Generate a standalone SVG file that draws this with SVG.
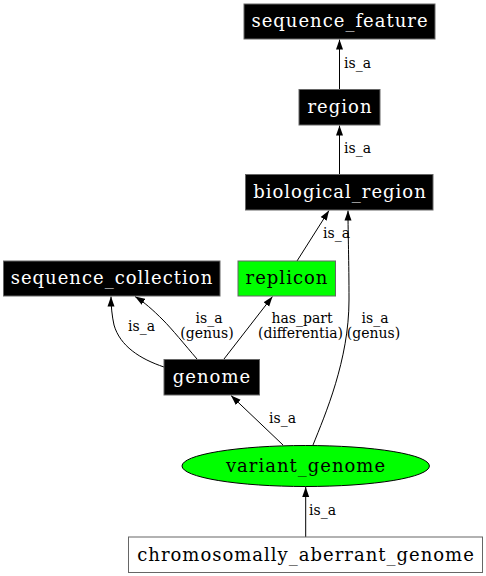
<svg xmlns="http://www.w3.org/2000/svg" width="486" height="576" viewBox="0 0 486 576">
<defs>
<marker id="arr" markerUnits="userSpaceOnUse" markerWidth="10" markerHeight="8" refX="10" refY="3.5" orient="auto" viewBox="0 0 10 7">
<path d="M0,0 L10,3.5 L0,7 z" fill="#000"/>
</marker>
<style>
.box{stroke:#666;stroke-width:1}
.dark{fill:#000}
.lime{fill:#00ff00}
.white{fill:#fff}
.nl{font-family:"DejaVu Serif",serif;font-size:18px;letter-spacing:1px;text-anchor:middle}
.nlw{fill:#fff}
.nlb{fill:#000}
.el{font-family:"DejaVu Serif",serif;font-size:14px;fill:#000}
.e{fill:none;stroke:#000;stroke-width:1;marker-end:url(#arr)}
</style>
</defs>
<rect width="486" height="576" fill="#fff"/>
<g id="connectors">
<path class="e" d="M339.5,89 L339.5,39.5"/>
<path class="e" d="M339.5,174 L339.5,125.5"/>
<path class="e" d="M297,261 L329,210.5"/>
<path class="e" d="M313,445 C325,415 349,360 349,300 C349,260 348,235 348,210.5"/>
<path class="e" d="M164,367 C140,359 120,346 114,325 C112,316 111,306 111,296.5"/>
<path class="e" d="M197,359 C185,345 172,329 163,320 C153,310 144,302 135,296.5"/>
<path class="e" d="M224,359 L272.5,296.5"/>
<path class="e" d="M283,445 L231,395.5"/>
<path class="e" d="M305.7,537 L305.7,487"/>
<text class="el" x="344" y="68">is_a</text>
<text class="el" x="344" y="153">is_a</text>
<text class="el" x="323" y="238">is_a</text>
<text class="el" x="128" y="331">is_a</text>
<text class="el" x="209" y="323" text-anchor="middle">is_a</text>
<text class="el" x="207" y="338" text-anchor="middle">(genus)</text>
<text class="el" x="302" y="323" text-anchor="middle">has_part</text>
<text class="el" x="300.5" y="338" text-anchor="middle">(differentia)</text>
<text class="el" x="375" y="323" text-anchor="middle">is_a</text>
<text class="el" x="373.5" y="338" text-anchor="middle">(genus)</text>
<text class="el" x="269" y="423">is_a</text>
<text class="el" x="309" y="515">is_a</text>
</g>
<g id="sequence_feature">
<rect class="box dark" x="244" y="4" width="191" height="35"/>
<text class="nl nlw" x="340" y="27">sequence_feature</text>
</g>
<g id="region">
<rect class="box dark" x="299" y="89.5" width="81" height="35.5"/>
<text class="nl nlw" x="340" y="112.5">region</text>
</g>
<g id="biological_region">
<rect class="box dark" x="245.5" y="174.5" width="187.5" height="35.5"/>
<text class="nl nlw" x="340" y="197.5">biological_region</text>
</g>
<g id="sequence_collection">
<rect class="box dark" x="3.5" y="261" width="216.5" height="35"/>
<text class="nl nlw" x="112" y="284">sequence_collection</text>
</g>
<g id="replicon">
<rect class="box lime" x="238" y="261" width="97.5" height="35" stroke="#333"/>
<text class="nl nlb" x="287" y="284">replicon</text>
</g>
<g id="genome">
<rect class="box dark" x="164" y="359.5" width="95.5" height="35.5"/>
<text class="nl nlw" x="212" y="382.5">genome</text>
</g>
<g id="variant_genome">
<ellipse cx="305.7" cy="466" rx="123.7" ry="20.5" fill="#00ff00" stroke="#000" stroke-width="1"/>
<text class="nl nlb" x="306" y="471.5">variant_genome</text>
</g>
<g id="chromosomally_aberrant_genome">
<rect class="box white" x="128.5" y="537" width="354" height="35.5" stroke="#333"/>
<text class="nl nlb" x="306" y="560.5">chromosomally_aberrant_genome</text>
</g>
</svg>
